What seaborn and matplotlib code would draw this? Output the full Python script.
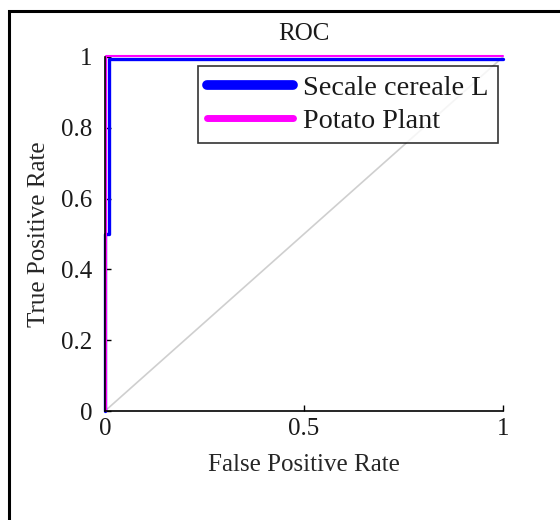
import numpy as np
import pandas as pd
import seaborn as sns
import matplotlib.pyplot as plt
from matplotlib.patches import Rectangle
from matplotlib.lines import Line2D

# ROC curves
fpr_secale = [0.0, 0.0, 0.009, 0.009, 1.0]
tpr_secale = [0.0, 0.5, 0.5, 0.995, 0.995]
fpr_potato = [0.003, 0.003, 1.0]
tpr_potato = [0.0, 1.003, 1.003]
chance_line = [0.0, 1.0]
labels = ['Secale cereale L', 'Potato Plant']

sns.set_style('white')
plt.rcParams['font.family'] = ['Liberation Serif', 'DejaVu Serif']
plt.rcParams['text.color'] = '#1a1a1a'

df = pd.concat([
    pd.DataFrame({'FPR': fpr_secale, 'TPR': tpr_secale, 'Class': labels[0]}),
    pd.DataFrame({'FPR': fpr_potato, 'TPR': tpr_potato, 'Class': labels[1]}),
])

fig = plt.figure(figsize=(5.6, 5.2), dpi=100)
ax = fig.add_axes([0.1875, 0.2096, 0.7107, 0.6808])

# outer frame
fig.patches.append(Rectangle((9 / 560, -0.1), 1.2, 1 - 11 / 520 + 0.1, transform=fig.transFigure,
                             fill=False, edgecolor='black', linewidth=2.2, zorder=-1))

ax.plot(chance_line, chance_line, color='#cfcfcf', linewidth=1.2)
sns.lineplot(data=df, x='FPR', y='TPR', hue='Class', sort=False, estimator=None,
             palette={labels[0]: '#0000ff', labels[1]: '#ff00ff'}, ax=ax, legend=False)
ax.lines[1].set_linewidth(2.4)
ax.lines[2].set_linewidth(1.5)
for ln in ax.lines:
    ln.set_clip_on(False)

ax.set_xlim(0, 1)
ax.set_ylim(0, 1)
ax.set_xticks([0, 0.5, 1])
ax.set_xticklabels(['0', '0.5', '1'])
ax.set_yticks([0, 0.2, 0.4, 0.6, 0.8, 1])
ax.set_yticklabels(['0', '0.2', '0.4', '0.6', '0.8', '1'])
ax.tick_params(direction='in', length=4, width=1, labelsize=18, color='black',
               labelcolor='#1a1a1a', bottom=True, left=True)
ax.tick_params(axis='x', pad=5)
ax.tick_params(axis='y', pad=9)
for s in ['top', 'right']:
    ax.spines[s].set_visible(False)
for s in ['bottom', 'left']:
    ax.spines[s].set_color('black')
    ax.spines[s].set_linewidth(1.2)

ax.set_title('ROC', fontsize=18, pad=12)
ax.set_xlabel('False Positive Rate', fontsize=18, labelpad=10)
ax.set_ylabel('True Positive Rate', fontsize=18, labelpad=8)

handles = [Line2D([], [], color='#0000ff', linewidth=7), Line2D([], [], color='#ff00ff', linewidth=5)]
leg = ax.legend(handles, labels, loc='upper right', bbox_to_anchor=(0.987, 0.975), borderaxespad=0,
                fontsize=20.3, frameon=True, fancybox=False, edgecolor='black', handlelength=3.05,
                borderpad=0.32, labelspacing=0.27, handletextpad=0.35)
leg.get_frame().set_linewidth(1.2)

fig.savefig('out.png', dpi=100)
